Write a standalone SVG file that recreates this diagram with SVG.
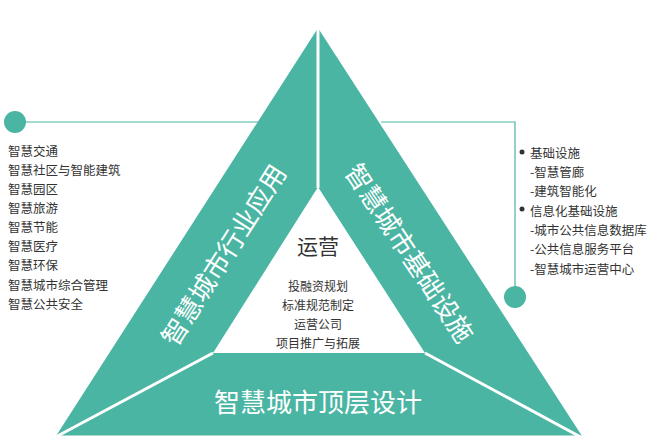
<svg xmlns="http://www.w3.org/2000/svg" width="662" height="445" viewBox="0 0 662 445">
<style>
.t{font-family:"Noto Sans CJK SC","Liberation Sans",sans-serif;fill:#333;font-size:12.5px}
.w{font-family:"Noto Sans CJK SC","Liberation Sans",sans-serif;fill:#fff;text-anchor:middle;dominant-baseline:central}
.c{font-family:"Noto Sans CJK SC","Liberation Sans",sans-serif;fill:#333;text-anchor:middle;dominant-baseline:central;font-size:12px}
.ln{stroke:#4ab5a2;stroke-width:1.2;fill:none}
</style>
<rect width="662" height="445" fill="#fff"/>
<g id="pyramid">
<polygon points="318,28 56,436 582,436" fill="#4ab5a2"/>
<polygon points="318,187 213,353 425,353" fill="#fff"/>
<g stroke="#fff" stroke-width="3">
<line x1="318" y1="26" x2="318" y2="188"/>
<line x1="213" y1="353" x2="50" y2="440"/>
<line x1="425" y1="353" x2="588" y2="441"/>
<line x1="40" y1="437" x2="600" y2="437"/>
</g>
</g>
<g id="left-band"><text class="w" font-size="26" transform="translate(222,254) rotate(-57.6)">智慧城市行业应用</text></g>
<g id="right-band"><text class="w" font-size="26" transform="translate(411,252) rotate(56.3)">智慧城市基础设施</text></g>
<g id="bottom-band"><text class="w" font-size="26" x="318" y="400">智慧城市顶层设计</text></g>
<g id="center">
<text class="c" font-size="21" x="318" y="245" style="font-size:21px">运营</text>
<text class="c" x="318" y="285">投融资规划</text>
<text class="c" x="318" y="304">标准规范制定</text>
<text class="c" x="318" y="323">运营公司</text>
<text class="c" x="318" y="342">项目推广与拓展</text>
</g>
<g id="connectors">
<line class="ln" x1="15" y1="122" x2="258" y2="122"/>
<polyline class="ln" points="381,122 515,122 515,296"/>
<circle cx="15" cy="122" r="11" fill="#4ab5a2"/>
<circle cx="515" cy="297" r="11" fill="#4ab5a2"/>
</g>
<g id="left-list" class="t">
<text x="8" y="156">智慧交通</text>
<text x="8" y="175">智慧社区与智能建筑</text>
<text x="8" y="194">智慧园区</text>
<text x="8" y="213">智慧旅游</text>
<text x="8" y="232">智慧节能</text>
<text x="8" y="251">智慧医疗</text>
<text x="8" y="270">智慧环保</text>
<text x="8" y="290">智慧城市综合管理</text>
<text x="8" y="309">智慧公共安全</text>
</g>
<g id="right-list" class="t">
<circle cx="522" cy="152" r="2.5" fill="#333"/>
<circle cx="522" cy="209" r="2.5" fill="#333"/>
<text x="530" y="158">基础设施</text>
<text x="530" y="177">-智慧管廊</text>
<text x="530" y="196">-建筑智能化</text>
<text x="530" y="216">信息化基础设施</text>
<text x="530" y="235">-城市公共信息数据库</text>
<text x="530" y="254">-公共信息服务平台</text>
<text x="530" y="274">-智慧城市运营中心</text>
</g>
</svg>
